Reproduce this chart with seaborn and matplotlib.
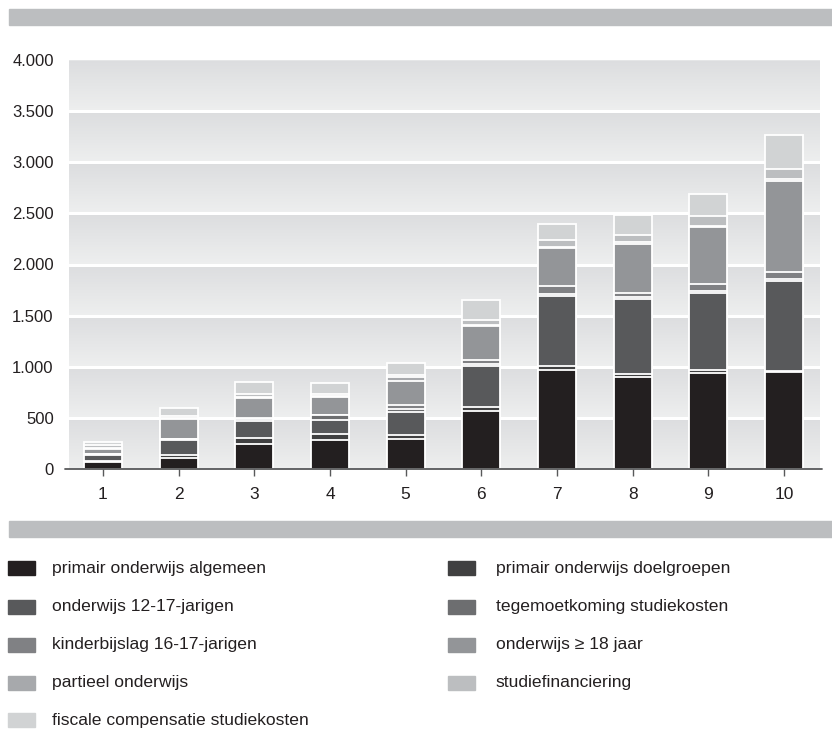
import numpy as np
import pandas as pd
import matplotlib
matplotlib.use("Agg")
import matplotlib.pyplot as plt
from matplotlib.patches import Rectangle
import seaborn as sns

# Jaren / klassen op de x-as
categories = ["1", "2", "3", "4", "5", "6", "7", "8", "9", "10"]

# Uitgaven per component (van onder naar boven gestapeld)
primair_algemeen = [70, 110, 240, 285, 295, 565, 965, 900, 940, 945]
primair_doelgroepen = [8, 25, 60, 55, 40, 40, 40, 30, 25, 15]
onderwijs_12_17 = [62, 150, 170, 140, 225, 400, 685, 730, 760, 880]
tegemoetkoming = [4, 5, 15, 45, 30, 25, 25, 20, 15, 20]
kinderbijslag = [6, 8, 18, 5, 40, 40, 75, 45, 65, 65]
onderwijs_18 = [50, 190, 187, 170, 235, 325, 370, 480, 560, 895]
partieel = [10, 12, 15, 15, 30, 15, 15, 15, 15, 15]
studiefinanciering = [22, 15, 25, 20, 20, 45, 65, 70, 90, 100]
fiscale_compensatie = [30, 85, 125, 110, 125, 195, 160, 195, 215, 335]

series_names = [
    "primair onderwijs algemeen",
    "primair onderwijs doelgroepen",
    "onderwijs 12-17-jarigen",
    "tegemoetkoming studiekosten",
    "kinderbijslag 16-17-jarigen",
    "onderwijs \u2265 18 jaar",
    "partieel onderwijs",
    "studiefinanciering",
    "fiscale compensatie studiekosten",
]
series_values = [
    primair_algemeen, primair_doelgroepen, onderwijs_12_17, tegemoetkoming,
    kinderbijslag, onderwijs_18, partieel, studiefinanciering, fiscale_compensatie,
]
series_colors = [
    "#231f20", "#404041", "#58595b", "#6d6e70", "#808184",
    "#939598", "#a7a9ac", "#bcbec0", "#d1d3d4",
]

y_ticks = [0, 500, 1000, 1500, 2000, 2500, 3000, 3500, 4000]

sns.set_theme(style="white")
plt.rcParams["font.family"] = ["Liberation Sans", "DejaVu Sans"]
text_color = "#231f20"

W, H = 832, 731
fig = plt.figure(figsize=(W / 100, H / 100), dpi=100)
fig.patch.set_facecolor("white")


def fy(px):
    return 1 - px / H


ax = fig.add_axes([69 / W, fy(469), (820 - 69) / W, (469 - 60) / H])
ax.set_xlim(-0.449, 9.476)
ax.set_ylim(0, 4000)

# Achtergrond: banden met verloop tussen de rasterlijnen
yy = np.linspace(0, 4000, 800)
frac = (yy % 500) / 500.0
light = np.array([238, 239, 239]) / 255.0
dark = np.array([220, 221, 223]) / 255.0
grad = light[None, :] + (dark - light)[None, :] * frac[:, None]
grad = np.repeat(grad[:, None, :], 2, axis=1)
ax.imshow(grad, origin="lower", extent=[-0.449, 9.476, 0, 4000],
          aspect="auto", zorder=0, interpolation="bilinear")
for yv in y_ticks[1:-1]:
    ax.axhline(yv, color="white", lw=2.2, zorder=1)

# Gestapelde staven: cumulatieve totalen, van hoog naar laag getekend
cum = np.cumsum(np.array(series_values), axis=0)
for level in range(len(series_names) - 1, -1, -1):
    df = pd.DataFrame({"klasse": categories, "waarde": cum[level]})
    sns.barplot(data=df, x="klasse", y="waarde", order=categories,
                color=series_colors[level], saturation=1, width=0.5,
                edgecolor="white", linewidth=1.3, errorbar=None,
                ax=ax, zorder=3)
ax.set_xlim(-0.449, 9.476)
ax.set_ylim(0, 4000)

for s in ax.spines.values():
    s.set_visible(False)
ax.plot([-0.5, 9.5], [0, 0], color="#58595b", lw=1.3, clip_on=False, zorder=5)

ax.set_yticks(y_ticks)
ax.set_yticklabels([f"{v:,}".replace(",", ".") for v in y_ticks])
ax.tick_params(axis="y", length=0, pad=11, labelsize=12, labelcolor=text_color)
ax.tick_params(axis="x", direction="out", length=5, width=1, color="#58595b",
               pad=8, labelsize=12.5, labelcolor=text_color, bottom=True)
ax.set_xlabel("")
ax.set_ylabel("")

# Grijze balken boven en onder de grafiek
band_color = "#bcbec0"
fig.patches.append(Rectangle((9 / W, fy(25)), 1 - 9 / W, 16 / H,
                             transform=fig.transFigure, color=band_color))
fig.patches.append(Rectangle((9 / W, fy(537)), 1 - 9 / W, 16 / H,
                             transform=fig.transFigure, color=band_color))

# Legenda in twee kolommen, rij voor rij
row_y = [568, 607, 645, 683, 720]
for i, (name, col) in enumerate(zip(series_names, series_colors)):
    r, c = divmod(i, 2)
    x0 = 8 if c == 0 else 448
    xt = 52 if c == 0 else 496
    yc = row_y[r]
    fig.patches.append(Rectangle((x0 / W, fy(yc + 7)), 27 / W, 14 / H,
                                 transform=fig.transFigure, color=col))
    fig.text(xt / W, fy(yc), name, ha="left", va="center",
             fontsize=12.6, color=text_color)

fig.savefig("out.png", dpi=100)
